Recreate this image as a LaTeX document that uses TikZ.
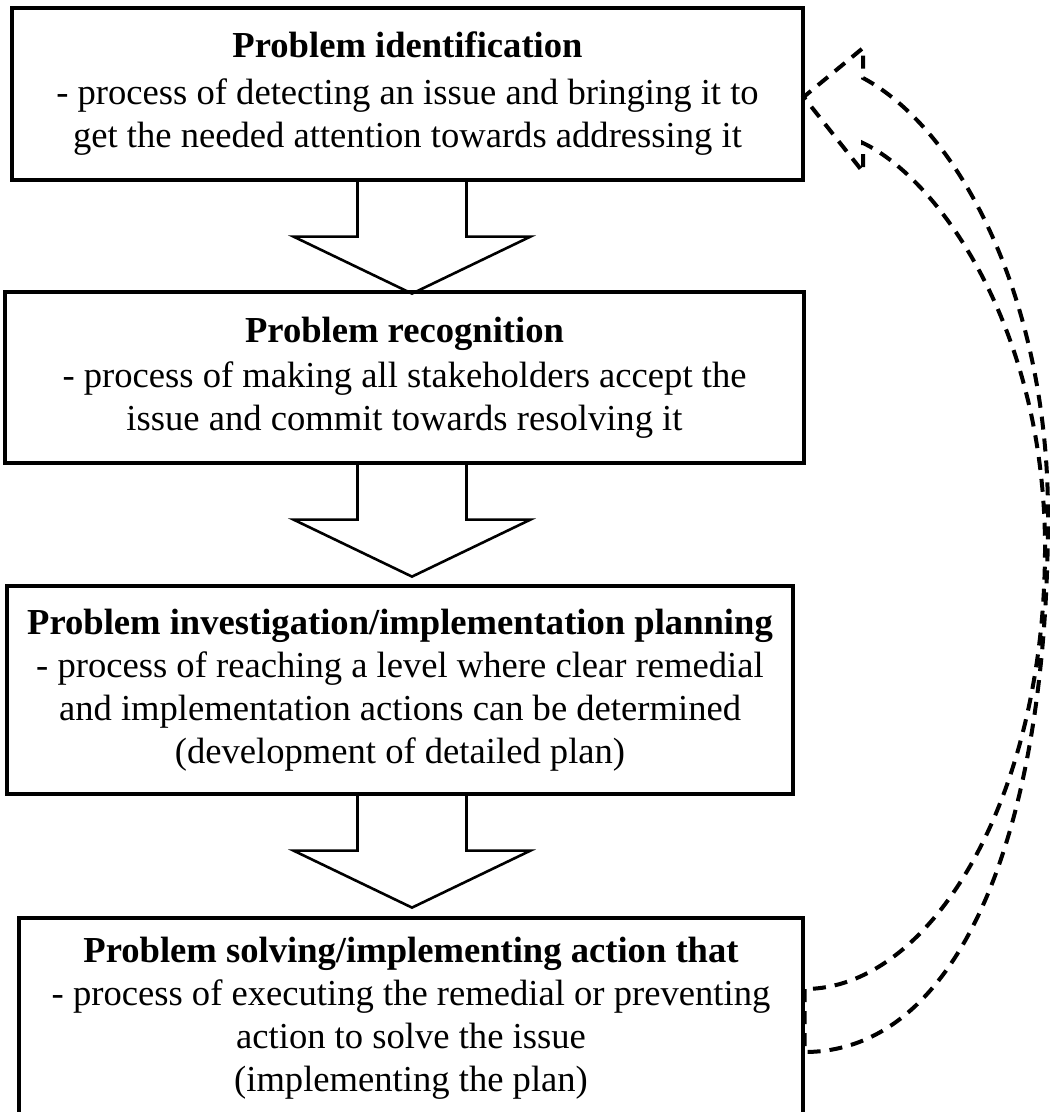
\documentclass[tikz,border=0pt]{standalone}
\usepackage{fontspec}
\setmainfont{Liberation Serif}
\usetikzlibrary{calc}
\begin{document}
\begin{tikzpicture}[x=0.5pt,y=-0.5pt,
  stage/.style={draw, line width=1.6pt, align=center, inner sep=0pt,
    font=\fontsize{18.3pt}{21.5pt}\selectfont},
  flowarrow/.style={draw, line width=1.3pt, line join=miter},
  loopline/.style={draw, line width=2pt, dash pattern=on 6.5pt off 4.5pt},
  pics/downarrow/.style={code={
    \draw[flowarrow] (-54.5,0) -- (-54.5,55) -- (-118.5,55) -- (0,112)
      -- (118.5,55) -- (54.5,55) -- (54.5,0);}}]
\useasboundingbox (0,0) rectangle (1049,1112);

% the four stages
\node[stage, minimum width=395.5pt, minimum height=86pt] (b1) at (407.5,94)
  {\textbf{Problem identification}\\[2pt]
   - process of detecting an issue and bringing it to\\
   get the needed attention towards addressing it};
\node[stage, minimum width=399.5pt, minimum height=85.5pt] (b2) at (404.5,377.5)
  {\textbf{Problem recognition}\\[1pt]
   - process of making all stakeholders accept the\\
   issue and commit towards resolving it};
\node[stage, minimum width=393pt, minimum height=104pt] (b3) at (400,690)
  {\textbf{Problem investigation/implementation planning}\\
   - process of reaching a level where clear remedial\\
   and implementation actions can be determined\\
   (development of detailed plan)};
\node[stage, minimum width=392pt, minimum height=100pt] (b4) at (411,1018)
  {\textbf{Problem solving/implementing action that}\\
   - process of executing the remedial or preventing\\
   action to solve the issue\\
   (implementing the plan)};

% hollow arrows between the stages
\coordinate (axis) at (412,0);
\pic at (b1.south -| axis) {downarrow};
\pic at (b2.south -| axis) {downarrow};
\pic at (b3.south -| axis) {downarrow};

% dashed feedback arrow from the last stage back to the first
\coordinate (tailtop) at ($(b4.east)+(0,-29)$);
\coordinate (tailbot) at ($(b4.east)+(0,34)$);
\coordinate (tip) at ($(b1.east)+(-1,3)$);
\draw[loopline] (tailtop) -- (tailbot)
  .. controls (960,1052) and (1048,830) .. (1048,515)
  .. controls (1048,300) and (960,130) .. (863,78)
  -- (863,48) -- (tip) -- (863,172) -- (863,143)
  .. controls (940,180) and (1045,330) .. (1045,548)
  .. controls (1045,800) and (930,989) .. (tailtop) -- cycle;
\end{tikzpicture}
\end{document}
